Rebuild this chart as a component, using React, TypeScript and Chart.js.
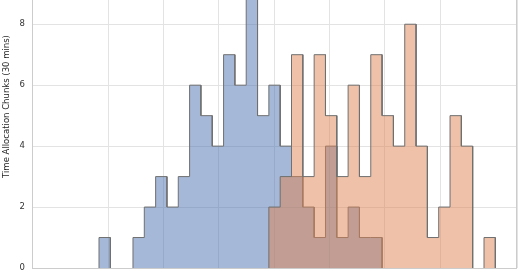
import React, { useEffect, useRef } from "react";
import { Chart, registerables } from "chart.js";

Chart.register(...registerables);

// Histogram bins: 35 equal bins spanning binMin..binMax (shared by both groups)
const binMin = 4.16;
const binMax = 40;
const binCount = 35;

// Counts per bin (Time Allocation Chunks of 30 mins)
const blueStartBin = 0;
const blueCounts = [1, 0, 0, 1, 2, 3, 2, 3, 6, 5, 4, 7, 6, 9, 5, 6, 4, 3, 2, 1, 4, 1, 2, 1, 1];
const orangeStartBin = 15;
const orangeCounts = [2, 3, 7, 3, 7, 5, 3, 6, 3, 7, 5, 4, 8, 4, 1, 2, 5, 4, 0, 1];

const yTicks = [0, 2, 4, 6, 8];
const xGridStep = 5;

const yTitle = "Time Allocation Chunks (30 mins)";

const FONT = "'DejaVu Sans', sans-serif";
const EDGE = "rgb(112,112,112)";

function edge(i: number) {
  return binMin + ((binMax - binMin) * i) / binCount;
}

// Outline of a step histogram: corners of every bin
function stepPoints(counts: number[], start: number) {
  const pts: { x: number; y: number }[] = [{ x: edge(start), y: 0 }];
  counts.forEach((c, i) => {
    pts.push({ x: edge(start + i), y: c });
    pts.push({ x: edge(start + i + 1), y: c });
  });
  pts.push({ x: edge(start + counts.length), y: 0 });
  return pts;
}

const hideBaseline = (ctx: any) =>
  ctx.p0.parsed.y === 0 && ctx.p1.parsed.y === 0 ? "rgba(0,0,0,0)" : EDGE;

const framePlugin = {
  id: "frame",
  afterDraw(chart: any) {
    const { ctx, chartArea } = chart;
    ctx.save();
    ctx.strokeStyle = "#cccccc";
    ctx.lineWidth = 1;
    ctx.strokeRect(
      Math.round(chartArea.left) + 0.5,
      Math.round(chartArea.top) + 0.5,
      Math.round(chartArea.right - chartArea.left) - 1,
      Math.round(chartArea.bottom - chartArea.top)
    );
    ctx.restore();
  },
};

export default function App() {
  const ref = useRef<HTMLCanvasElement>(null);

  useEffect(() => {
    if (!ref.current) return;
    const chart = new Chart(ref.current, {
      type: "line",
      data: {
        datasets: [
          {
            label: "Group A",
            data: stepPoints(blueCounts, blueStartBin),
            fill: "origin",
            tension: 0,
            backgroundColor: "rgba(76,114,176,0.5)",
            borderColor: EDGE,
            borderWidth: 1,
            pointRadius: 0,
            segment: { borderColor: hideBaseline },
            order: 2,
          },
          {
            label: "Group B",
            data: stepPoints(orangeCounts, orangeStartBin),
            fill: "origin",
            tension: 0,
            backgroundColor: "rgba(221,132,82,0.5)",
            borderColor: EDGE,
            borderWidth: 1,
            pointRadius: 0,
            segment: { borderColor: hideBaseline },
            order: 1,
          },
        ],
      },
      options: {
        responsive: false,
        animation: false,
        layout: { padding: { top: 0, right: 3, bottom: 4, left: 0 } },
        plugins: {
          legend: { display: false },
          tooltip: { enabled: false },
        },
        scales: {
          x: {
            type: "linear",
            min: -1.9,
            max: 41.96,
            border: { display: false },
            grid: { color: "#e3e3e3", lineWidth: 1, drawTicks: false },
            ticks: { display: false, stepSize: xGridStep },
            afterFit(scale: any) {
              scale.height = 0;
              scale.paddingLeft = 0;
              scale.paddingRight = 0;
            },
          },
          y: {
            type: "linear",
            min: 0,
            max: 10.6,
            border: { display: false },
            grid: { color: "#e3e3e3", lineWidth: 1, drawTicks: false },
            afterFit(scale: any) {
              scale.width = 32;
              scale.paddingTop = 0;
              scale.paddingBottom = 0;
            },
            afterBuildTicks(scale: any) {
              scale.ticks = yTicks.map((v) => ({ value: v }));
            },
            ticks: {
              color: "#333333",
              padding: 7,
              font: { family: FONT, size: 8.5 },
            },
            title: {
              display: true,
              text: yTitle,
              color: "#262626",
              padding: { top: 2, bottom: 0 },
              font: { family: FONT, size: 8.5 },
            },
          },
        },
      },
      plugins: [framePlugin],
    });
    return () => chart.destroy();
  }, []);

  return (
    <div
      style={{
        position: "fixed",
        left: 0,
        top: 0,
        width: 520,
        height: 272,
        overflow: "hidden",
        background: "#ffffff",
      }}
    >
      <canvas
        ref={ref}
        width={520}
        height={327}
        style={{ position: "absolute", left: 0, top: -55, width: 520, height: 327 }}
      />
    </div>
  );
}
